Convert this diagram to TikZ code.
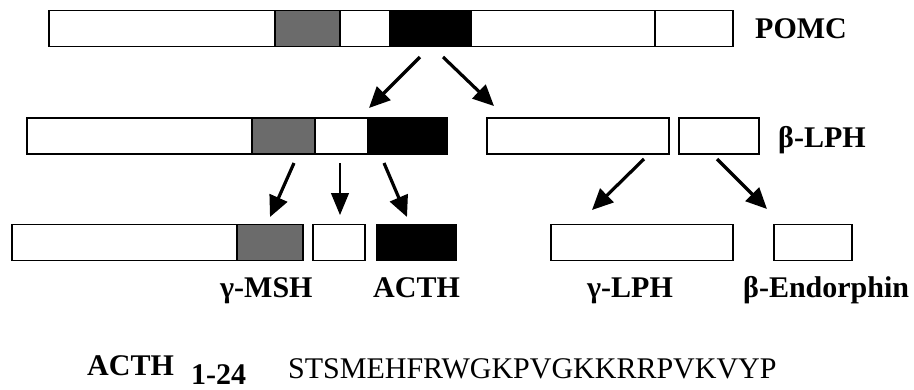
\documentclass[tikz,border=0pt]{standalone}
\usepackage{fontspec}
\setmainfont{Liberation Serif}
\usetikzlibrary{arrows.meta}
\tikzset{
  segbox/.style={draw=black, line width=1.2pt, inner sep=0pt, outer sep=0pt, anchor=north west, minimum height=36pt},
  wseg/.style={segbox, fill=white},
  gseg/.style={segbox, fill=black!58},
  kseg/.style={segbox, fill=black},
  lbl/.style={font=\fontsize{30}{30}\selectfont\bfseries, inner sep=0pt, anchor=base west},
  seqtxt/.style={font=\fontsize{30}{30}\selectfont, inner sep=0pt, anchor=base west},
  bigarrow/.style={line width=3.2pt, -{Triangle[length=21pt,width=19pt]}},
  thinarrow/.style={line width=1.2pt, -{Triangle[length=22pt,width=18pt]}}
}
\begin{document}
\begin{tikzpicture}[x=1pt,y=-1pt]
\useasboundingbox (0,0) rectangle (914,389);
% Row 1: POMC
\node[wseg, minimum width=226pt] (p1) at (49,10.5) {};
\node[gseg, minimum width=65pt]  (p2) at (275,10.5) {};
\node[wseg, minimum width=50pt]  (p3) at (340,10.5) {};
\node[kseg, minimum width=80pt]  (p4) at (390,10.5) {};
\node[wseg, minimum width=184pt] (p5) at (471,10.5) {};
\node[wseg, minimum width=78pt]  (p6) at (655,10.5) {};
\node[lbl] (pomc) at (755,38) {POMC};
% Row 2
\node[wseg, minimum width=225pt] (l1) at (27,118) {};
\node[gseg, minimum width=63pt]  (l2) at (252,118) {};
\node[wseg, minimum width=53pt]  (l3) at (315,118) {};
\node[kseg, minimum width=79pt]  (l4) at (368,118) {};
\node[wseg, minimum width=182pt] (r1) at (487,118) {};
\node[wseg, minimum width=80pt]  (r2) at (679,118) {};
\node[lbl] (blph) at (778,147) {β-LPH};
% Row 3
\node[wseg, minimum width=225pt] (m1) at (12,224.5) {};
\node[gseg, minimum width=66pt]  (m2) at (237,224.5) {};
\node[wseg, minimum width=52pt]  (m3) at (313,224.5) {};
\node[kseg, minimum width=79pt]  (m4) at (377,224.5) {};
\node[wseg, minimum width=182pt] (m5) at (551,224.5) {};
\node[wseg, minimum width=78pt]  (m6) at (774,224.5) {};
\node[lbl] (gmsh) at (220,297) {γ-MSH};
\node[lbl] (acth) at (373,297) {ACTH};
\node[lbl] (glph) at (587,297) {γ-LPH};
\node[lbl] (bend) at (743,297) {β-Endorphin};
% Bottom sequence
\node[lbl] (acthb) at (87,375) {ACTH};
\node[lbl] (sub) at (191,384) {1-24};
\node[seqtxt] (seq) at (288,378) {STSMEHFRWGKPVGKKRRPVKVYP};
% Arrow end points
\coordinate (a1s) at (420,57);  \coordinate (a1e) at (369,108);
\coordinate (a2s) at (443,57);  \coordinate (a2e) at (494,106);
\coordinate (a3s) at (294,163); \coordinate (a3e) at (270,217);
\coordinate (a4s) at (340,163); \coordinate (a4e) at (340,215);
\coordinate (a5s) at (384,163); \coordinate (a5e) at (407,217);
\coordinate (a6s) at (644,159); \coordinate (a6e) at (592,210);
\coordinate (a7s) at (717,159); \coordinate (a7e) at (767,209);
\draw[bigarrow] (a1s) -- (a1e);
\draw[bigarrow] (a2s) -- (a2e);
\draw[bigarrow] (a3s) -- (a3e);
\draw[thinarrow] (a4s) -- (a4e);
\draw[bigarrow] (a5s) -- (a5e);
\draw[bigarrow] (a6s) -- (a6e);
\draw[bigarrow] (a7s) -- (a7e);
\end{tikzpicture}
\end{document}
